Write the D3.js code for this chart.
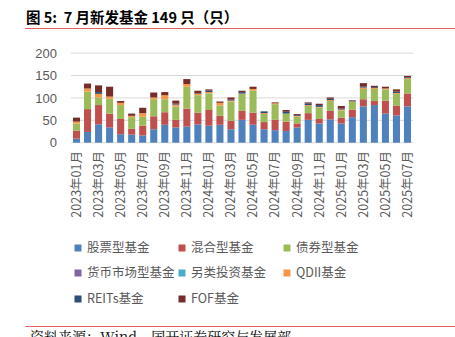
<!DOCTYPE html>
<html>
<head>
<meta charset="utf-8">
<script src="https://cdn.jsdelivr.net/npm/d3@7"></script>
<style>
  body { margin: 0; background: #fff; }
  svg { display: block; }
</style>
</head>
<body>
<div id="chart"></div>
<script>
// months on the x axis
const months = [
    "2023年01月", "2023年02月", "2023年03月", "2023年04月", "2023年05月", "2023年06月",
    "2023年07月", "2023年08月", "2023年09月", "2023年10月", "2023年11月", "2023年12月",
    "2024年01月", "2024年02月", "2024年03月", "2024年04月", "2024年05月", "2024年06月",
    "2024年07月", "2024年08月", "2024年09月", "2024年10月", "2024年11月", "2024年12月",
    "2025年01月", "2025年02月", "2025年03月", "2025年04月", "2025年05月", "2025年06月",
    "2025年07月"
];

// new funds per month, by type
const stockFunds  = [9, 24, 41, 34, 19, 18, 16, 30, 40, 34, 36, 41, 38, 40, 30, 51, 40, 30, 28, 26, 34, 51, 43, 52, 43, 57, 81, 84, 65, 61, 81];
const mixedFunds  = [18, 51, 43, 31, 34, 13, 22, 29, 28, 17, 40, 26, 35, 20, 19, 20, 27, 16, 23, 21, 9, 15, 10, 19, 13, 17, 16, 9, 29, 22, 29];
const bondFunds   = [16, 39, 17, 33, 31, 26, 20, 38, 29, 30, 49, 39, 37, 23, 43, 38, 49, 18, 35, 18, 15, 16, 26, 22, 16, 17, 23, 27, 25, 26, 32];
const moneyFunds  = [0, 0, 0, 0, 0, 0, 0, 0, 0, 0, 0, 0, 0, 0, 0, 2, 0, 0, 0, 0, 0, 0, 0, 0, 0, 0, 0, 0, 0, 0, 0];
const altFunds    = [0, 0, 0, 0, 0, 0, 0, 0, 0, 0, 0, 0, 0, 0, 0, 0, 0, 0, 0, 0, 0, 0, 0, 0, 0, 0, 0, 0, 0, 0, 0];
const qdiiFunds   = [4, 7, 8, 5, 5, 3, 8, 4, 9, 4, 6, 3, 3, 6, 2, 0, 4, 2, 2, 0, 2, 2, 1, 2, 2, 1, 3, 2, 2, 2, 2];
const reitsFunds  = [0, 0, 4, 0, 0, 0, 0, 0, 0, 2, 0, 1, 3, 0, 2, 2, 0, 4, 0, 4, 2, 4, 4, 3, 2, 2, 2, 2, 0, 3, 2];
const fofFunds    = [9, 11, 15, 22, 4, 5, 12, 11, 7, 7, 11, 6, 3, 3, 5, 3, 5, 0, 2, 4, 2, 2, 3, 3, 6, 1, 8, 3, 4, 5, 3];

const seriesNames = ["股票型基金", "混合型基金", "债券型基金", "货币市场型基金", "另类投资基金", "QDII基金", "REITs基金", "FOF基金"];
const seriesValues = [stockFunds, mixedFunds, bondFunds, moneyFunds, altFunds, qdiiFunds, reitsFunds, fofFunds];
const yTicks = [0, 50, 100, 150, 200];

const colors = ["#4f81bd", "#c0504d", "#9bbb59", "#8064a2", "#4bacc6", "#f79646", "#2c4d75", "#772c2a"];

const width = 455;
const height = 337;
const fontCJK = "'Noto Sans CJK SC', 'Noto Sans', sans-serif";

const svg = d3.select("#chart")
    .append("svg")
    .attr("width", width)
    .attr("height", height);

// title and red rule
svg.append("text")
    .attr("x", 26)
    .attr("y", 23)
    .style("font-family", fontCJK)
    .style("font-size", "14.5px")
    .style("font-weight", "bold")
    .style("white-space", "pre")
    .style("fill", "#000")
    .text("图 5:  7 月新发基金 149 只（只）");

svg.append("line")
    .attr("x1", 25).attr("x2", width)
    .attr("y1", 28.5).attr("y2", 28.5)
    .attr("stroke", "#e06666")
    .attr("stroke-width", 1.2);

// build table for stacking
const table = months.map((m, i) => {
    const row = { month: m };
    seriesNames.forEach((s, j) => row[s] = seriesValues[j][i]);
    return row;
});

const stacked = d3.stack().keys(seriesNames)(table);

const x = d3.scaleBand()
    .domain(months)
    .range([71, 413])
    .paddingInner(0.36)
    .paddingOuter(0.18);

const y = d3.scaleLinear()
    .domain([0, 200])
    .range([142.7, 53.1]);

// gridlines
svg.append("g")
    .selectAll("line")
    .data(yTicks)
    .enter()
    .append("line")
    .attr("x1", 71).attr("x2", 413)
    .attr("y1", d => y(d)).attr("y2", d => y(d))
    .attr("stroke", "#d9d9d9")
    .attr("stroke-width", 1);

// y axis labels
const yAxis = svg.append("g")
    .attr("transform", "translate(62,0)")
    .call(d3.axisLeft(y).tickValues(yTicks).tickSize(0).tickPadding(5));
yAxis.select(".domain").remove();
yAxis.selectAll("text")
    .style("font-family", "'Liberation Sans', Arial, sans-serif")
    .style("font-size", "13px")
    .style("fill", "#595959");

// bars
svg.append("g")
    .selectAll("g")
    .data(stacked)
    .enter()
    .append("g")
    .attr("fill", (d, i) => colors[i])
    .selectAll("rect")
    .data(d => d)
    .enter()
    .append("rect")
    .attr("x", d => x(d.data.month))
    .attr("width", x.bandwidth())
    .attr("y", d => y(d[1]))
    .attr("height", d => y(d[0]) - y(d[1]));

// x axis labels (every other month)
const xAxis = svg.append("g")
    .attr("transform", "translate(0,146)")
    .call(d3.axisBottom(x).tickValues(months.filter((m, i) => i % 2 === 0)).tickSize(0));
xAxis.select(".domain").remove();
xAxis.selectAll("text")
    .attr("transform", "rotate(-90)")
    .attr("text-anchor", "end")
    .attr("x", -5)
    .attr("y", 0)
    .attr("dy", "0.35em")
    .style("font-family", fontCJK)
    .style("font-size", "12.5px")
    .style("fill", "#595959");

// legend
const legendPos = [
    [78, 248], [182, 248], [287, 248],
    [78, 273], [182, 273], [287, 273],
    [78, 299], [182, 299]
];
const legend = svg.append("g")
    .selectAll("g")
    .data(seriesNames)
    .enter()
    .append("g")
    .attr("transform", (d, i) => `translate(${legendPos[i][0]}, ${legendPos[i][1]})`);

legend.append("rect")
    .attr("x", -3.5).attr("y", -3.5)
    .attr("width", 7).attr("height", 7)
    .attr("fill", (d, i) => colors[i]);

legend.append("text")
    .attr("x", 9)
    .attr("dy", "0.35em")
    .style("font-family", fontCJK)
    .style("font-size", "12.5px")
    .style("fill", "#595959")
    .text(d => d);

// source line (partly cut by the bottom edge, as in the original)
svg.append("line")
    .attr("x1", 25).attr("x2", width)
    .attr("y1", 326.5).attr("y2", 326.5)
    .attr("stroke", "#e06666")
    .attr("stroke-width", 1.2);

svg.append("text")
    .attr("x", 30)
    .attr("y", 342)
    .style("font-family", "'Noto Serif CJK SC', 'Noto Sans CJK SC', serif")
    .style("font-size", "14px")
    .style("fill", "#000")
    .text("资料来源：Wind，国开证券研究与发展部");
</script>
</body>
</html>
